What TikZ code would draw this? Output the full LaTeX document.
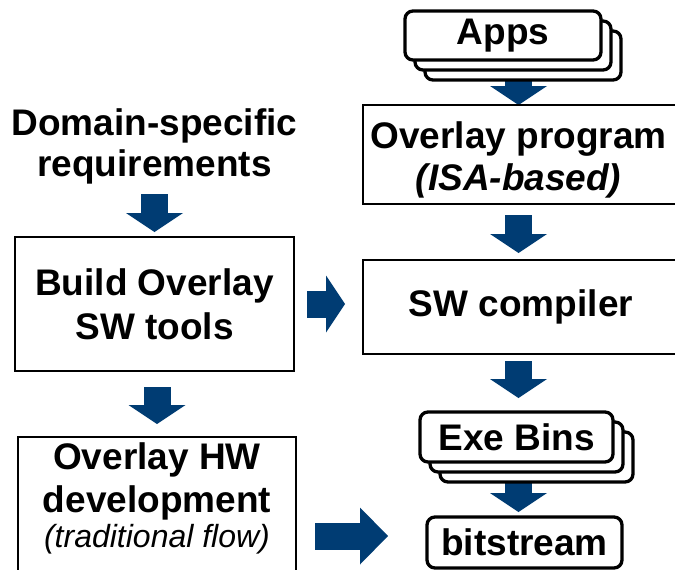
\documentclass[tikz,border=0pt]{standalone}
\usepackage{fontspec}
\setmainfont{Liberation Sans}
\usetikzlibrary{arrows.meta,shadows,calc}
\definecolor{flowblue}{RGB}{0,60,115}
\pgfdeclarelayer{arrowlayer}
\pgfsetlayers{arrowlayer,main}
\begin{document}
\begin{tikzpicture}[x=1pt,y=-1pt,
  every node/.style={inner sep=0pt, outer sep=0pt},
  big/.style={font=\fontsize{37}{44}\selectfont\bfseries, align=center},
  box/.style={draw=black, line width=2.5pt, fill=white},
  tagbox/.style={draw=black, line width=3.3pt, fill=white, rounded corners=8pt},
  stackbox/.style={tagbox, double copy shadow={shadow xshift=10pt, shadow yshift=-10pt,
      draw=black, line width=3.3pt, fill=white}},
  blockarrow/.style={draw=flowblue, line width=27pt,
      -{Triangle[width=57pt 0 0, length=19pt 0 0, line width=0pt]}},
  longhead/.style={-{Triangle[width=57pt 0 0, length=28pt 0 0, line width=0pt]}},
]
\useasboundingbox (0,0) rectangle (675,570);

% left column
\node[font=\fontsize{37}{41}\selectfont\bfseries, align=center] (dom) at (154.5,146.5)
  {Domain-specific\\requirements};
\node[box, big, minimum width=279pt, minimum height=134pt] (build) at (154.5,304)
  {Build Overlay\\SW tools};
\node[box, minimum width=278pt, minimum height=160pt, anchor=north] (hw) at (157,437) {};
\node[font=\fontsize{37}{43}\selectfont\bfseries, align=center] (hwtext) at (157,498)
  {Overlay HW\\development\\[-8pt]{\mdseries\itshape\fontsize{32}{38}\selectfont (traditional flow)}};

% right column
\node[stackbox, big, minimum width=196pt, minimum height=49pt] (apps) at (503,35.5) {Apps};
\node[box, minimum width=316pt, minimum height=99pt] (prog) at (521,154.5) {};
\node[font=\fontsize{37}{42}\selectfont\bfseries, align=center] (progtext) at (518.5,159.5)
  {Overlay program\\\textit{(ISA-based)}};
\node[box, big, minimum width=316pt, minimum height=94pt] (sw) at (521,307) {SW compiler};
\node[stackbox, big, minimum width=193pt, minimum height=50pt] (exe) at (516.5,437) {Exe Bins};
\node[tagbox, big, minimum width=195pt, minimum height=51pt] (bit) at (524.5,542.5) {bitstream};

% flow arrows
\begin{pgfonlayer}{arrowlayer}
\draw[blockarrow] ([yshift=-10pt]dom.south) -- ([yshift=5pt]dom.south |- build.north);
\draw[blockarrow] ([yshift=-16pt]hw.north |- build.south) -- ([yshift=13pt]hw.north);
\draw[blockarrow] ([xshift=13pt]build.east) -- ([xshift=-18pt]build.east -| sw.west);
\draw[blockarrow, longhead] ([xshift=19pt, yshift=6.5pt]hw.east |- bit.west)
  -- ([xshift=-39pt, yshift=6.5pt]bit.west);
\draw[blockarrow] (progtext |- apps.south) -- (progtext |- prog.north);
\draw[blockarrow] ([yshift=-11pt]progtext |- prog.south) -- ([yshift=7pt]progtext |- sw.north);
\draw[blockarrow] ([yshift=-7pt]progtext |- sw.south) -- ([yshift=14pt]progtext |- exe.north);
\draw[blockarrow] (progtext |- exe.south) -- ([yshift=5pt]progtext |- bit.north);
\end{pgfonlayer}
\end{tikzpicture}
\end{document}
